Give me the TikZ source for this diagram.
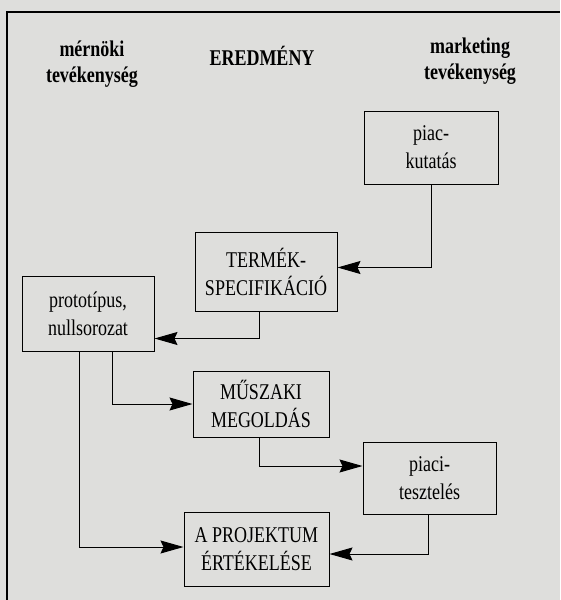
\documentclass[tikz,border=0pt]{standalone}
\usepackage{fontspec}
\setmainfont[FakeStretch=0.8]{Liberation Serif}
\usetikzlibrary{arrows.meta}
\definecolor{paper}{RGB}{222,222,220}
\tikzset{
  box/.style={draw,line width=1pt,align=center,inner sep=2pt,font=\fontsize{22.5}{28}\selectfont},
  head/.style={align=center,font=\bfseries\fontsize{22.5}{26}\selectfont},
  arr/.style={line width=1pt,-{Stealth[length=23pt,width=13pt,inset=3pt]}}
}
\begin{document}
\begin{tikzpicture}[x=1pt,y=-1pt]
  \fill[paper] (0,0) rectangle (560,600);
  \useasboundingbox (0,0) rectangle (560,600);
  \draw[line width=1.2pt] (7,600) |- (560,12);
  % headings
  \node[head] (eng) at (92,64) {mérnöki\\tevékenység};
  \node[head] (res) at (262,56) {EREDMÉNY};
  \node[head] (mkt) at (470,61) {marketing\\tevékenység};
  % boxes
  \node[box,minimum width=134pt,minimum height=73pt] (piac) at (431,147.5) {piac-\\kutatás};
  \node[box,minimum width=142pt,minimum height=79pt] (termek) at (266,271.5) {TERMÉK-\\SPECIFIKÁCIÓ};
  \node[box,minimum width=132pt,minimum height=75pt] (proto) at (88,313.5) {prototípus,\\nullsorozat};
  \node[box,minimum width=136pt,minimum height=66pt] (muszaki) at (261,404) {MŰSZAKI\\MEGOLDÁS};
  \node[box,minimum width=133pt,minimum height=72pt] (piaci) at (429.5,478) {piaci-\\tesztelés};
  \node[box,minimum width=145pt,minimum height=74pt] (projekt) at (256.5,549) {A PROJEKTUM\\ÉRTÉKELÉSE};
  % connectors
  \draw[arr] (piac.south) |- ([yshift=4pt]termek.east);
  \draw[arr] ([xshift=-7pt]termek.south) |- ([yshift=-25pt]proto.east);
  \draw[arr] ([xshift=24pt]proto.south) |- (muszaki.west);
  \draw[arr] ([xshift=-9pt]proto.south) |- ([yshift=2pt]projekt.west);
  \draw[arr] ([xshift=-2pt]muszaki.south) |- ([yshift=12pt]piaci.west);
  \draw[arr] ([xshift=-1pt]piaci.south) |- ([yshift=-5pt]projekt.east);
\end{tikzpicture}
\end{document}
